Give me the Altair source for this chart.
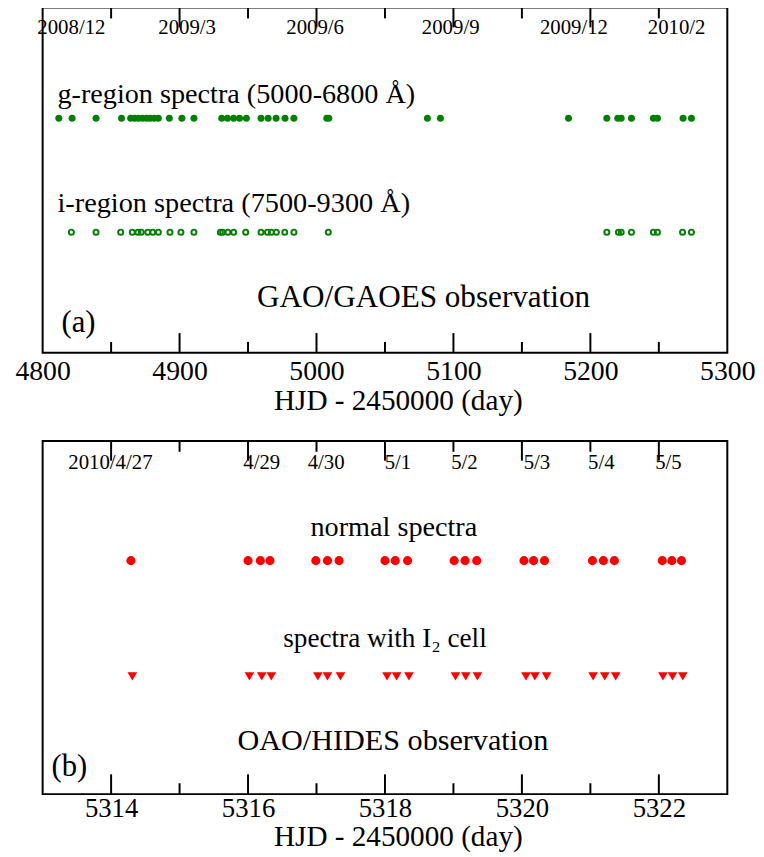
import altair as alt
import pandas as pd

# ---------------- data ----------------
g_days = [4811.8, 4821.5, 4839.0, 4857.6, 4864.3, 4867.2, 4870.0, 4873.0, 4876.0,
          4878.6, 4881.5, 4884.5, 4892.5, 4901.7, 4910.5, 4930.8, 4935.0, 4939.5,
          4943.8, 4948.8, 4959.5, 4964.7, 4970.5, 4977.0, 4983.5, 5007.5, 5009.0,
          5081.0, 5090.5, 5184.0, 5212.0, 5220.0, 5222.5, 5230.0, 5246.0, 5249.0,
          5267.7, 5273.8]
i_days = [4821.0, 4839.0, 4857.0, 4865.5, 4869.6, 4872.0, 4876.8, 4880.4, 4884.5,
          4893.0, 4901.0, 4910.5, 4929.8, 4931.5, 4935.3, 4939.5, 4948.3, 4959.5,
          4964.2, 4967.0, 4970.7, 4976.8, 4983.5, 5008.6, 5212.0, 5220.5, 5222.5,
          5230.0, 5246.0, 5249.0, 5267.3, 5273.8]
normal_days = [5314.29, 5316.00, 5316.18, 5316.32, 5316.99, 5317.16, 5317.33,
               5318.00, 5318.15, 5318.33, 5319.01, 5319.17, 5319.34, 5320.03,
               5320.17, 5320.33, 5321.03, 5321.19, 5321.35, 5322.05, 5322.19,
               5322.33]
iodine_days = [5314.31, 5316.02, 5316.20, 5316.34, 5317.02, 5317.16, 5317.35,
               5318.03, 5318.17, 5318.35, 5319.03, 5319.18, 5319.35, 5320.06,
               5320.19, 5320.36, 5321.04, 5321.21, 5321.37, 5322.06, 5322.20,
               5322.35]

top_domain = [4800, 5300]
top_labels = [4800, 4900, 5000, 5100, 5200, 5300]
top_major = [4900, 5000, 5100, 5200]
top_minor = [4850, 4950, 5050, 5150, 5250]
top_dates = ["2008/12", "2009/3", "2009/6", "2009/9", "2009/12", "2010/2"]
top_date_days = [4821.0, 4905.5, 4999.0, 5098.0, 5188.0, 5263.0]

bot_domain = [5313, 5323]
bot_labels = [5314, 5316, 5318, 5320, 5322]
bot_major = [5314, 5316, 5318, 5320, 5322]
bot_minor = [5315, 5317, 5319, 5321]
bot_dates = ["2010/4/27", "4/29", "4/30", "5/1", "5/2", "5/3", "5/4", "5/5"]
bot_date_days = [5313.99, 5316.20, 5317.14, 5318.19, 5319.16, 5320.22, 5321.16, 5322.14]

x_title = "HJD - 2450000 (day)"
g_label = "g-region spectra (5000-6800 Å)"
i_label = "i-region spectra (7500-9300 Å)"
top_note = "GAO/GAOES observation"
top_tag = "(a)"
normal_label = "normal spectra"
iodine_label = "spectra with I₂ cell"
bot_note = "OAO/HIDES observation"
bot_tag = "(b)"

# ---------------- style ----------------
FONT = "Liberation Serif"
GREEN = "#008000"
RED = "#ff0000"
W = 692
H1 = 349
H2 = 357
MAJ = 20
MIN = 11


def x_enc(domain, labels, lpad, tpad, lsize):
    return alt.X(
        "day:Q",
        scale=alt.Scale(domain=domain, nice=False, zero=False),
        axis=alt.Axis(values=labels, format="d", ticks=False, tickSize=0, domain=False,
                      grid=False, labelFont=FONT, labelFontSize=lsize, labelColor="black",
                      labelPadding=lpad, labelFlush=False, labelOverlap=False,
                      title=x_title, titleFont=FONT, titleFontSize=29.5, titleX=359,
                      titleFontWeight="normal", titleColor="black", titlePadding=tpad),
    )


def ticks(days, ax, H, length):
    df = pd.DataFrame({"day": days})
    bottom = alt.Chart(df).mark_rule(color="black", strokeWidth=2).encode(
        x=x_enc(*ax), y=alt.value(H), y2=alt.value(H - length))
    top = alt.Chart(df).mark_rule(color="black", strokeWidth=2).encode(
        x=x_enc(*ax), y=alt.value(0), y2=alt.value(length))
    return [bottom, top]


def note(text, x, y, size=28.5, align="left"):
    return alt.Chart(pd.DataFrame({"t": [text]})).mark_text(
        align=align, baseline="middle", font=FONT, fontSize=size, color="black"
    ).encode(x=alt.value(x), y=alt.value(y), text="t:N")


def date_labels(names, days, ax, y):
    df = pd.DataFrame({"day": days, "lab": names})
    return alt.Chart(df).mark_text(
        align="center", baseline="middle", font=FONT, fontSize=21, color="black"
    ).encode(x=x_enc(*ax), y=alt.value(y), text="lab:N")


def points(days, row, rows, ax, yrange, **mark):
    df = pd.DataFrame({"day": days, "row": [row] * len(days)})
    return alt.Chart(df).mark_point(**mark).encode(
        x=x_enc(*ax),
        y=alt.Y("row:N", scale=alt.Scale(type="point", domain=rows, range=yrange, padding=0),
                axis=None),
    )


top_ax = (top_domain, top_labels, 5, 1, 28)
top_rows = ["g", "i"]
top_y = [112, 227]
top_layers = (
    ticks(top_major, top_ax, H1, MAJ)
    + ticks(top_minor, top_ax, H1, MIN)
    + [
        points(g_days, "g", top_rows, top_ax, top_y, shape="circle", filled=True, size=50,
               color=GREEN, opacity=1),
        points(i_days, "i", top_rows, top_ax, top_y, shape="circle", filled=False, size=26,
               strokeWidth=2, color=GREEN, opacity=1),
        date_labels(top_dates, top_date_days, top_ax, 21),
        note(g_label, 15, 87),
        note(i_label, 15, 198, size=28.6),
        note(top_note, 385, 294, size=31.5, align="center"),
        note(top_tag, 19, 319, size=31),
    ]
)
top = alt.layer(*top_layers).properties(width=W, height=H1)

bot_ax = (bot_domain, bot_labels, 2, 1, 27)
bot_rows = ["n", "io"]
bot_y = [121, 238]
bot_layers = (
    ticks(bot_major, bot_ax, H2, MAJ)
    + ticks(bot_minor, bot_ax, H2, MIN)
    + [
        points(normal_days, "n", bot_rows, bot_ax, bot_y, shape="circle", filled=True,
               size=85, color=RED, opacity=1),
        points(iodine_days, "io", bot_rows, bot_ax, bot_y, shape="triangle-down",
               filled=True, size=95, color=RED, opacity=1),
        date_labels(bot_dates, bot_date_days, bot_ax, 22),
        note(normal_label, 355, 87, align="center"),
        note(iodine_label, 346, 200, size=27.5, align="center"),
        note(bot_note, 354, 303, size=30.5, align="center"),
        note(bot_tag, 9, 330, size=31),
    ]
)
bottom = alt.layer(*bot_layers).properties(width=W, height=H2)

chart = (
    alt.vconcat(top, bottom, spacing=23)
    .properties(padding={"left": 6, "top": -7, "right": 0, "bottom": 0}, background="white")
    .configure_view(stroke="black", strokeWidth=2)
)

chart.save("out.html", embed_options={"renderer": "svg", "actions": False})
